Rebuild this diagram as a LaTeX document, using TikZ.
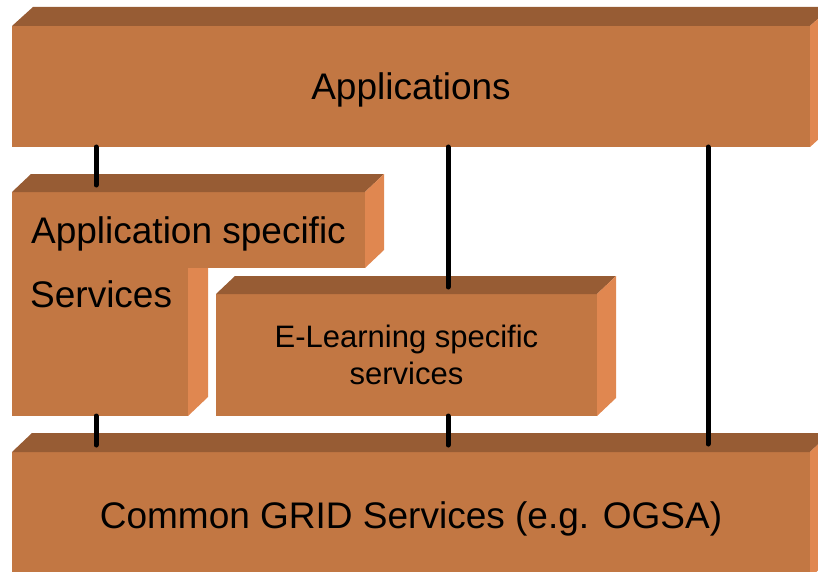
\documentclass[tikz,border=0pt]{standalone}
\usepackage{fontspec}
\setmainfont{Liberation Sans}
\definecolor{frontc}{RGB}{194,119,67}
\definecolor{topc}{RGB}{151,92,52}
\definecolor{sidec}{RGB}{224,135,80}
\begin{document}
\begin{tikzpicture}[x=1pt,y=-1pt,
  frontface/.style={fill=frontc, draw=none, inner sep=0pt, outer sep=0pt, anchor=north west},
  topface/.style={fill=topc},
  sideface/.style={fill=sidec},
  lbl/.style={font=\fontsize{37}{44}\selectfont, text depth=0pt},
  small/.style={font=\fontsize{31}{37}\selectfont, align=center},
  conn/.style={line width=5pt, line cap=round, draw=black}]
\useasboundingbox (0,0) rectangle (818,572);
\clip (0,0) rectangle (818,572);

% Applications
\node[frontface, lbl, minimum width=798pt, minimum height=121pt] (app) at (12,26) {Applications};
\fill[topface] (app.north west) -- ++(21,-19) -- ([shift={(21,-19)}]app.north east) -- (app.north east) -- cycle;
\fill[sideface] (app.north east) -- ++(21,-19) -- ([shift={(21,-19)}]app.south east) -- (app.south east) -- cycle;

% Application specific services (L shape)
\node[frontface, lbl, minimum width=353pt, minimum height=76pt] (as) at (12,192) {Application specific};
\node[frontface, minimum width=176pt, minimum height=148pt] (sv) at (12,268) {};
\fill[topface] (as.north west) -- ++(19,-18) -- ([shift={(19,-18)}]as.north east) -- (as.north east) -- cycle;
\fill[sideface] (as.north east) -- ++(19,-18) -- ([shift={(19,-18)}]as.south east) -- (as.south east) -- cycle;
\fill[sideface] (sv.north east) -- ++(20,0) -- ([shift={(20,-19)}]sv.south east) -- (sv.south east) -- cycle;
\node[lbl, anchor=base west, inner sep=0pt] (svt) at (30,307) {Services};

% E-Learning specific services
\node[frontface, small, minimum width=381pt, minimum height=122pt] (el) at (216,294) {E-Learning specific\\services};
\fill[topface] (el.north west) -- ++(19,-18) -- ([shift={(19,-18)}]el.north east) -- (el.north east) -- cycle;
\fill[sideface] (el.north east) -- ++(19,-18) -- ([shift={(19,-18)}]el.south east) -- (el.south east) -- cycle;

% Common GRID services
\node[frontface, lbl, minimum width=798pt, minimum height=126pt] (cg) at (12,452) {Common GRID Services (e.g. OGSA)};
\fill[topface] (cg.north west) -- ++(20,-19) -- ([shift={(20,-19)}]cg.north east) -- (cg.north east) -- cycle;
\fill[sideface] (cg.north east) -- ++(20,-19) -- ([shift={(20,-19)}]cg.south east) -- (cg.south east) -- cycle;

% connectors
\coordinate (c1) at (96,185);
\coordinate (c2) at (448,287);
\coordinate (c3) at (708,444);
\coordinate (c4) at (96,445);
\coordinate (c5) at (448,445);
\draw[conn] (app.south -| c1) -- (c1);
\draw[conn] (app.south -| c2) -- (c2);
\draw[conn] (app.south -| c3) -- (c3);
\draw[conn] (sv.south -| c4) -- (c4);
\draw[conn] (el.south -| c5) -- (c5);
\end{tikzpicture}
\end{document}
